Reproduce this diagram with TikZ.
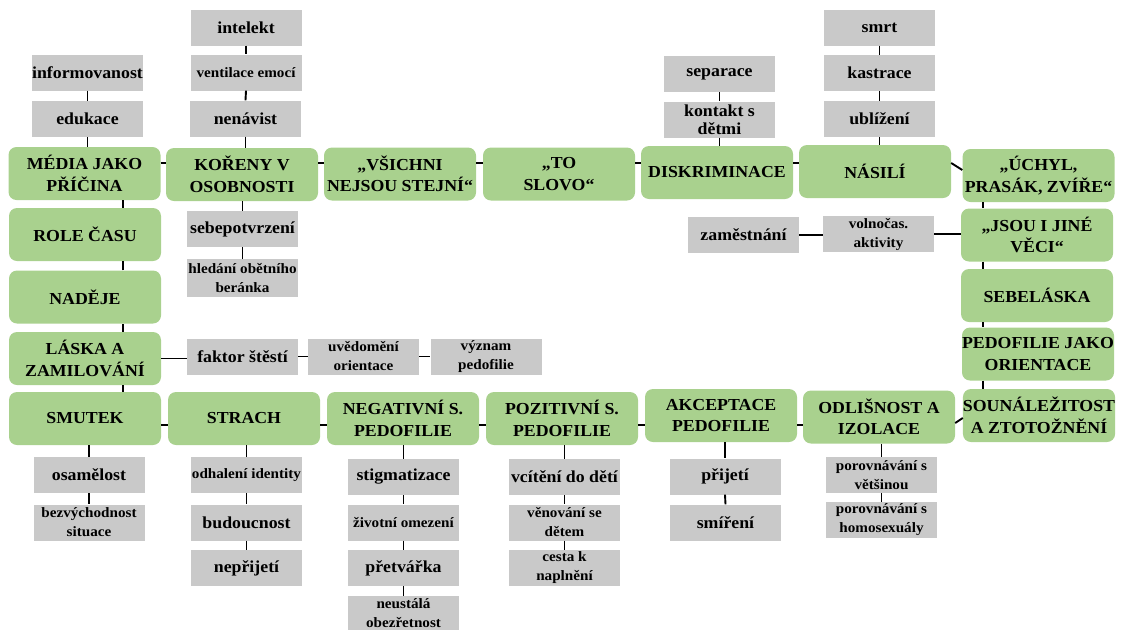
\documentclass[tikz,border=0pt]{standalone}
\usepackage{fontspec}
\setmainfont{Liberation Serif}[FakeStretch=1.06]
\definecolor{gbox}{RGB}{169,209,142}
\definecolor{sbox}{RGB}{201,201,201}
\tikzset{
 main/.style={fill=gbox, rounded corners=8pt, minimum width=152pt, minimum height=53pt, inner sep=0pt, align=center, font=\bfseries\fontsize{16.8}{21.5}\selectfont},
 sub/.style={fill=sbox, minimum width=111pt, minimum height=36pt, inner sep=0pt, align=center, font=\bfseries\fontsize{16.8}{18}\selectfont},
 subs/.style={sub, font=\bfseries\fontsize{14.3}{19}\selectfont},
 link/.style={line width=1.9pt, black}
}
\begin{document}
\begin{tikzpicture}[x=1pt,y=-1pt]
\useasboundingbox (0,0) rectangle (1125,630);
% main nodes
\node[main] (media) at (84.5,173.5) {MÉDIA JAKO\\PŘÍČINA};
\node[main] (koreny) at (242,174.5) {KOŘENY V\\OSOBNOSTI};
\node[main] (vsichni) at (400,174) {„VŠICHNI\\NEJSOU STEJNÍ“};
\node[main] (toslovo) at (559,174) {„TO\\SLOVO“};
\node[main] (diskr) at (717,172.5) {DISKRIMINACE};
\node[main] (nasili) at (875,171.5) {NÁSILÍ};
\node[main] (uchyl) at (1038.5,175.5) {„ÚCHYL,\\PRASÁK, ZVÍŘE“};
\node[main] (jsou) at (1037,235) {„JSOU I JINÉ\\VĚCI“};
\node[main] (sebelaska) at (1037,295.5) {SEBELÁSKA};
\node[main] (orient) at (1038,354) {PEDOFILIE JAKO\\ORIENTACE};
\node[main] (sounal) at (1039,415.5) {SOUNÁLEŽITOST\\A ZTOTOŽNĚNÍ};
\node[main] (odlis) at (879,417) {ODLIŠNOST A\\IZOLACE};
\node[main] (akcept) at (721,415.5) {AKCEPTACE\\PEDOFILIE};
\node[main] (pozit) at (562,418.5) {POZITIVNÍ S.\\PEDOFILIE};
\node[main] (negat) at (403,418.5) {NEGATIVNÍ S.\\PEDOFILIE};
\node[main] (strach) at (244,418.5) {STRACH};
\node[main] (smutek) at (85,418.5) {SMUTEK};
\node[main] (laska) at (85,358.5) {LÁSKA A\\ZAMILOVÁNÍ};
\node[main] (nadeje) at (85,297) {NADĚJE};
\node[main] (role) at (85,234.5) {ROLE ČASU};
% sub nodes
\node[sub] (inform) at (87.5,72.5) {informovanost};
\node[sub] (eduk) at (87.5,119) {edukace};
\node[sub] (intel) at (246,27.5) {intelekt};
\node[subs] (vent) at (246,72.5) {ventilace emocí};
\node[sub] (nenav) at (245.5,118.5) {nenávist};
\node[sub] (sebep) at (242.5,229) {sebepotvrzení};
\node[subs, minimum height=38pt] (hledani) at (242.5,278) {hledání obětního\\beránka};
\node[sub] (faktor) at (242.5,356.5) {faktor štěstí};
\node[subs] (uvedom) at (363.5,356.5) {uvědomění\\orientace};
\node[subs] (vyznam) at (486,356.5) {význam\\pedofilie};
\node[sub] (separ) at (719.5,74) {separace};
\node[sub] (kontakt) at (719.5,119.5) {kontakt s\\dětmi};
\node[sub] (smrt) at (879.5,27.5) {smrt};
\node[sub] (kastr) at (879.5,73) {kastrace};
\node[sub] (ublize) at (879.5,119) {ublížení};
\node[sub] (zamest) at (743.5,235) {zaměstnání};
\node[subs] (volnoc) at (878.5,234) {volnočas.\\aktivity};
\node[sub] (osamel) at (89,475) {osamělost};
\node[subs] (bezvych) at (89,522.5) {bezvýchodnost\\situace};
\node[subs] (odhal) at (246.5,475) {odhalení identity};
\node[sub] (budouc) at (246.5,522.5) {budoucnost};
\node[sub] (neprij) at (246.5,568) {nepřijetí};
\node[sub] (stigma) at (403.5,477) {stigmatizace};
\node[subs] (zivot) at (403.5,522.5) {životní omezení};
\node[sub] (pretv) at (403.5,568) {přetvářka};
\node[subs, minimum height=34pt] (neust) at (403.5,613) {neustálá\\obezřetnost};
\node[sub] (vciteni) at (564.5,477) {vcítění do dětí};
\node[subs] (venov) at (564.5,522.5) {věnování se\\dětem};
\node[subs] (cesta) at (564.5,568) {cesta k\\naplnění};
\node[sub] (prijeti) at (725,476.5) {přijetí};
\node[sub] (smireni) at (725.5,522.5) {smíření};
\node[subs] (porov1) at (881.5,475) {porovnávání s\\většinou};
\node[subs] (porov2) at (881.5,520) {porovnávání s\\homosexuály};
% helper coordinates
\coordinate (toprow) at (0,163);
\coordinate (botrow) at (0,425);
\coordinate (leftcol) at (123,0);
\coordinate (rightcol) at (983,0);
% main chain
\draw[link] (media.east |- toprow) -- (koreny.west |- toprow);
\draw[link] (koreny.east |- toprow) -- (vsichni.west |- toprow);
\draw[link] (vsichni.east |- toprow) -- (toslovo.west |- toprow);
\draw[link] (toslovo.east |- toprow) -- (diskr.west |- toprow);
\draw[link] (diskr.east |- toprow) -- (nasili.west |- toprow);
\draw[link] (nasili.east |- toprow) -- ([yshift=5.5pt]uchyl.west);
\draw[link] (uchyl.south -| rightcol) -- (jsou.north -| rightcol);
\draw[link] (jsou.south -| rightcol) -- (sebelaska.north -| rightcol);
\draw[link] (sebelaska.south -| rightcol) -- (orient.north -| rightcol);
\draw[link] (orient.south -| rightcol) -- (sounal.north -| rightcol);
\draw[link] ([yshift=-2.5pt]sounal.west) -- ([yshift=-6pt]odlis.east);
\draw[link] (odlis.west |- botrow) -- (akcept.east |- botrow);
\draw[link] (akcept.west |- botrow) -- (pozit.east |- botrow);
\draw[link] (pozit.west |- botrow) -- (negat.east |- botrow);
\draw[link] (negat.west |- botrow) -- (strach.east |- botrow);
\draw[link] (strach.west |- botrow) -- (smutek.east |- botrow);
\draw[link] (smutek.north -| leftcol) -- (laska.south -| leftcol);
\draw[link] (laska.north -| leftcol) -- (nadeje.south -| leftcol);
\draw[link] (nadeje.north -| leftcol) -- (role.south -| leftcol);
\draw[link] (role.north -| leftcol) -- (media.south -| leftcol);
% branches
\draw[link] (inform.south) -- (eduk.north);
\draw[link] (eduk.south) -- (eduk.south |- media.north);
\draw[link] (intel.south) -- (vent.north);
\draw[link] (vent.south) -- (nenav.north);
\draw[link] (nenav.south) -- (nenav.south |- koreny.north);
\draw[link] (sebep.north |- koreny.south) -- (sebep.north);
\draw[link] (sebep.south) -- (hledani.north);
\draw[link] (laska.east) -- (laska.east -| faktor.west);
\draw[link] (faktor.east) -- (uvedom.west);
\draw[link] (uvedom.east) -- (vyznam.west);
\draw[link] (separ.south) -- (kontakt.north);
\draw[link] (kontakt.south) -- (kontakt.south |- diskr.north);
\draw[link] (smrt.south) -- (kastr.north);
\draw[link] (kastr.south) -- (ublize.north);
\draw[link] (ublize.south) -- (ublize.south |- nasili.north);
\draw[link] (volnoc.east) -- (volnoc.east -| jsou.west);
\draw[link] (zamest.east) -- (zamest.east -| volnoc.west);
\draw[link] (osamel.north |- smutek.south) -- (osamel.north);
\draw[link] (osamel.south) -- (bezvych.north);
\draw[link] (odhal.north |- strach.south) -- (odhal.north);
\draw[link] (odhal.south) -- (budouc.north);
\draw[link] (budouc.south) -- (neprij.north);
\draw[link] (stigma.north |- negat.south) -- (stigma.north);
\draw[link] (stigma.south) -- (zivot.north);
\draw[link] (zivot.south) -- (pretv.north);
\draw[link] (pretv.south) -- (neust.north);
\draw[link] (vciteni.north |- pozit.south) -- (vciteni.north);
\draw[link] (vciteni.south) -- (venov.north);
\draw[link] (venov.south) -- (cesta.north);
\draw[link] (prijeti.north |- akcept.south) -- (prijeti.north);
\draw[link] (prijeti.south) -- (smireni.north);
\draw[link] (porov1.north |- odlis.south) -- (porov1.north);
\draw[link] (porov1.south) -- (porov2.north);
\end{tikzpicture}
\end{document}
